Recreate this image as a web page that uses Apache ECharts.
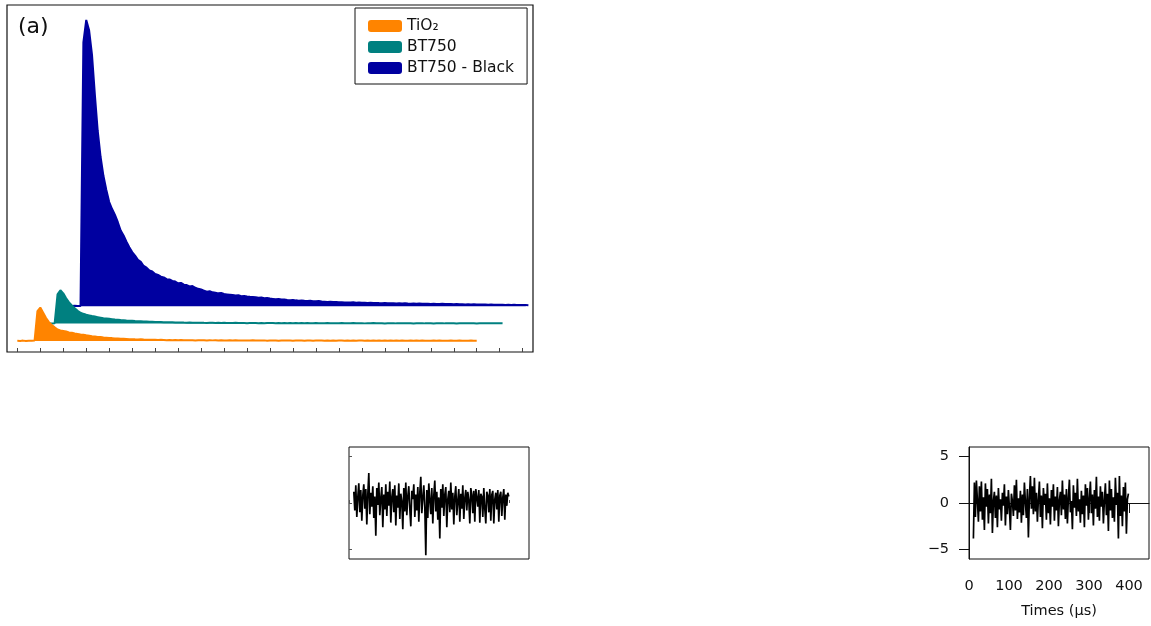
<!DOCTYPE html>
<html>
<head>
<meta charset="utf-8">
<script src="https://cdn.jsdelivr.net/npm/echarts@6/dist/echarts.min.js"></script>
<style>
  html, body { margin: 0; padding: 0; background: #ffffff; }
  #chart { width: 1151px; height: 626px; }
</style>
</head>
<body>
<div id="chart"></div>
<script>
// ---- Transient decays (panel a), sampled every 2.5 µs ----
const sampleStep = 2.5;                       // µs between samples
const seriesNames = ['TiO₂', 'BT750', 'BT750 - Black'];
const traceStart = [0, 17.5, 35];             // µs, first sample of each trace
const traceBaseline = [3.2, 8.2, 13.2];       // vertical offset of each trace (waterfall)

const tio2Signal = [
  0.05, 0.0, 0.08, -0.03, 0.04, 0.02, 0.1,
  8.6, 9.6, 8.1, 6.6, 5.4, 4.6, 3.9, 3.3, 3.0, 2.85, 2.7, 2.45, 2.35, 2.15,
  2.0, 1.85, 1.75, 1.6, 1.5, 1.35, 1.3, 1.15, 1.1, 0.95, 0.9, 0.85, 0.8, 0.7,
  0.72, 0.62, 0.6, 0.55, 0.5, 0.5, 0.45, 0.42, 0.44, 0.38, 0.35, 0.36, 0.3, 0.32, 0.28, 0.3,
  0.26, 0.22, 0.27, 0.2, 0.24, 0.18, 0.23, 0.21, 0.16, 0.22,
  0.19, 0.14, 0.2, 0.17, 0.21, 0.13, 0.18, 0.15, 0.19, 0.12,
  0.17, 0.14, 0.1, 0.16, 0.13, 0.18, 0.11, 0.15, 0.09, 0.14,
  0.12, 0.16, 0.08, 0.13, 0.1, 0.15, 0.07, 0.12, 0.11, 0.14,
  0.06, 0.13, 0.09, 0.12, 0.1, 0.07, 0.13, 0.08, 0.11, 0.05,
  0.12, 0.09, 0.06, 0.11, 0.08, 0.13, 0.05, 0.1, 0.07, 0.12,
  0.06, 0.09, 0.11, 0.04, 0.1, 0.07, 0.12, 0.05, 0.08, 0.1,
  0.03, 0.09, 0.06, 0.11, 0.04, 0.08, 0.07, 0.1, 0.05, 0.09,
  0.02, 0.08, 0.06, 0.1, 0.04, 0.07, 0.09, 0.03, 0.08, 0.05,
  0.1, 0.04, 0.07, 0.06, 0.09, 0.02, 0.08, 0.05, 0.07, 0.04,
  0.08, 0.06, 0.03, 0.09, 0.05, 0.07, 0.04, 0.08, 0.06, 0.05
];

const bt750Signal = [
  0.03, 0.06, 0.0, 0.05, 0.02, 0.04, 0.1,
  8.4, 9.6, 8.7, 7.3, 6.1, 5.2, 4.4, 3.7, 3.1, 2.8, 2.55, 2.35, 2.15, 2.0,
  1.85, 1.7, 1.55, 1.45, 1.35, 1.25, 1.15, 1.1, 1.0, 0.95, 0.88, 0.82, 0.78, 0.72,
  0.68, 0.64, 0.6, 0.58, 0.52, 0.5, 0.47, 0.44, 0.42, 0.4, 0.38, 0.35, 0.36, 0.32, 0.3, 0.31,
  0.27, 0.24, 0.29, 0.22, 0.26, 0.2, 0.25, 0.21, 0.18, 0.23,
  0.2, 0.16, 0.22, 0.18, 0.2, 0.15, 0.19, 0.17, 0.2, 0.13,
  0.18, 0.15, 0.12, 0.17, 0.14, 0.19, 0.12, 0.16, 0.1, 0.15,
  0.13, 0.17, 0.09, 0.14, 0.11, 0.16, 0.08, 0.13, 0.12, 0.15,
  0.07, 0.14, 0.1, 0.13, 0.11, 0.08, 0.14, 0.09, 0.12, 0.06,
  0.13, 0.1, 0.07, 0.12, 0.09, 0.14, 0.06, 0.11, 0.08, 0.13,
  0.07, 0.1, 0.12, 0.05, 0.11, 0.08, 0.13, 0.06, 0.09, 0.11,
  0.04, 0.1, 0.07, 0.12, 0.05, 0.09, 0.08, 0.11, 0.06, 0.1,
  0.03, 0.09, 0.07, 0.11, 0.05, 0.08, 0.1, 0.04, 0.09, 0.06,
  0.11, 0.05, 0.08, 0.07, 0.1, 0.03, 0.09, 0.06, 0.08, 0.05,
  0.09, 0.07, 0.04, 0.1, 0.06, 0.08, 0.05, 0.09, 0.07, 0.06,
  0.08, 0.05
];

const bt750BlackSignal = [
  0.05, 0.1, 0.02, 0.08, 0.0, 0.06, 0.1, 0.04, 0.08,
  76, 82.5, 79.5, 72.5, 61, 50.5, 43, 37.5, 33.5, 30, 28, 26.3, 24.2, 21.8, 20.4,
  18.6, 17.0, 15.6, 14.6, 13.4, 12.8, 11.6, 11.1, 10.3, 10.0, 9.3, 9.0, 8.5, 8.3,
  7.8, 7.7, 7.3, 7.1, 6.6, 6.7, 6.2, 6.1, 5.7, 5.8, 5.3, 5.0, 4.8, 4.5, 4.2, 4.3,
  4.0, 3.9, 3.7, 3.8, 3.5, 3.4, 3.3, 3.2, 3.1, 3.15, 2.9, 2.95, 2.8, 2.7, 2.65, 2.6,
  2.45, 2.5, 2.3, 2.35, 2.2, 2.1, 2.0, 2.05, 1.9, 1.95, 1.8,
  1.75, 1.82, 1.68, 1.6, 1.66, 1.55, 1.5, 1.58, 1.45, 1.4, 1.47, 1.33, 1.3, 1.22,
  1.25, 1.18, 1.2, 1.12, 1.16, 1.08, 1.1, 1.05, 1.12, 1.0, 1.04, 0.98, 1.02, 0.94, 0.97, 0.9, 0.95, 0.9,
  0.88, 0.92, 0.85, 0.83, 0.88, 0.8, 0.84, 0.78, 0.82, 0.76, 0.74, 0.79, 0.72, 0.75, 0.7, 0.68,
  0.73, 0.66, 0.7, 0.64, 0.62, 0.67, 0.6, 0.6,
  0.62, 0.57, 0.6, 0.55, 0.58, 0.52, 0.55, 0.5, 0.53, 0.48, 0.5, 0.46, 0.49, 0.44,
  0.47, 0.42, 0.45, 0.4, 0.43, 0.38, 0.41, 0.36, 0.39, 0.35, 0.37, 0.33, 0.35, 0.3
];

// ---- Residual traces (lower panels), sampled every 2.5 µs ----
const residualStepUs = 2.5;
const residualLeftStart = 12;
const residualRightStart = 11;
const residualLeft = [
  1.2, -0.8, 1.9, -1.5, 0.6, 2.1, -1.0, 1.4, -1.9, 0.8,
  2.0, -0.6, 1.5, -2.3, 0.9, 3.2, -1.2, 1.1, -0.4, 1.8,
  -1.6, 0.7, -3.5, 1.6, -0.2, 2.2, -1.3, 0.5, 1.7, -2.6,
  0.9, -0.7, 2.0, -1.4, 1.2, -0.3, 2.3, -2.1, 0.6, 1.5,
  -1.0, 1.9, -2.4, 0.8, -0.5, 2.1, -1.7, 1.0, 0.2, -2.8,
  1.6, -0.9, 2.2, -1.3, 0.7, 1.8, -0.6, -2.5, 1.3, 0.4,
  2.0, -1.5, 0.9, -0.8, 1.7, -2.0, 1.1, 2.8, -1.1, 0.5,
  1.9, -0.4, -5.6, 1.4, -1.6, 2.1, 0.3, -1.2, 1.6, -2.2,
  0.8, 2.4, -0.9, 1.2, -1.8, 0.6, -3.8, 1.5, -0.5, 2.0,
  -1.4, 0.9, 1.7, -2.6, 0.4, 1.3, -1.0, 2.2, -0.7, 1.1,
  -2.3, 0.7, 1.8, -1.3, 0.2, 1.5, -2.0, 1.0, -0.6, 1.9,
  -1.7, 0.5, 1.4, -0.8, 1.2, 0.3, -2.2, 1.6, 0.9, -1.1,
  1.3, -2.0, 1.5, 0.6, -0.4, 1.4, -2.1, 1.0, 0.7, -1.5,
  1.6, -0.6, -2.2, 1.2, 0.8, -1.0, 1.5, -1.9, 0.9, 1.3,
  -2.2, 0.4, 1.1, -0.7, 1.4, -2.0, 0.8, 1.2, -1.4, 0.6,
  1.5, -1.8, 0.9, -0.3, 1.1, 0.7
];
const residualRight = [
  -3.8, 2.2, -1.5, 2.4, 0.3, -2.0, 1.8, -0.9, 2.3, -1.8,
  0.6, -2.9, 2.1, -0.4, 1.5, -2.2, 0.9, -1.1, 2.6, -3.2,
  0.2, 1.2, -1.6, 0.8, -2.6, 1.6, -0.7, 0.4, -1.9, 1.1,
  -0.3, 2.0, -2.4, 0.7, -1.2, 1.4, -0.5, -2.9, 1.0, 0.2,
  -1.4, 1.9, -0.8, 2.5, -1.7, 0.5, -1.0, 1.3, -2.1, 0.9,
  -1.3, 2.2, 0.1, -1.6, 1.5, -3.7, 0.6, 2.9, -0.6, 1.8,
  -1.2, 2.7, -0.9, 1.1, -2.0, 0.4, 2.3, -1.5, 0.8, -2.7,
  1.6, -0.2, 1.0, -1.8, 2.1, -1.1, 0.5, -2.3, 1.4, -0.4,
  2.0, -1.9, 0.7, -0.8, 1.7, -2.5, 0.3, 1.2, -1.3, 2.4,
  -0.7, 0.9, -1.7, 1.5, -2.2, 0.6, 2.5, -1.0, 0.2, -2.8,
  1.9, -0.5, 1.1, -1.4, 2.6, -0.9, 0.4, -2.1, 1.3, -1.2,
  0.8, -2.6, 2.0, -0.3, 1.6, -1.8, 0.5, 2.3, -1.1, 0.9,
  -2.4, 1.4, -0.6, 2.8, -1.5, 0.7, -1.9, 1.8, -0.4, 1.2,
  -2.2, 0.3, 2.1, -1.3, 1.0, -3.0, 2.4, -0.8, 1.5, -1.6,
  0.6, -2.0, 2.7, -0.2, 1.1, -3.8, 2.9, -1.4, 0.8, -2.5,
  1.7, -0.9, 2.2, -3.3, 0.4, 1.0
];

// Tick values
const decayTicks = [0, 20, 40, 60, 80, 100, 120, 140, 160, 180, 200, 220,
                    240, 260, 280, 300, 320, 340, 360, 380, 400, 420, 440];
const timeTicks = [0, 100, 200, 300, 400];
const residualTicks = [-5, 0, 5];

// ---- styling ----
const FONT = 'DejaVu Sans';
const traceColors = ['#FF8400', '#008080', '#0000A0'];

function toPoints(values, start, step, offset) {
  return values.map((v, i) => [start + i * step, v + offset]);
}

const decaySignals = [tio2Signal, bt750Signal, bt750BlackSignal];

// back to front: BT750 - Black, BT750, TiO2 (each its own z so lines and fills stack per trace)
const decaySeries = [2, 1, 0].map((k, order) => ({
  name: seriesNames[k],
  type: 'line',
  xAxisIndex: 0,
  yAxisIndex: 0,
  z: 2 + order,
  data: toPoints(decaySignals[k], traceStart[k], sampleStep, traceBaseline[k]),
  showSymbol: false,
  symbol: 'none',
  lineStyle: { color: traceColors[k], width: 2 },
  itemStyle: { color: traceColors[k] },
  areaStyle: { color: traceColors[k], opacity: 1, origin: traceBaseline[k] },
  silent: true
}));

const residualSeries = [
  {
    type: 'line', xAxisIndex: 1, yAxisIndex: 1,
    data: toPoints(residualLeft, residualLeftStart, residualStepUs, 0),
    showSymbol: false, symbol: 'none',
    lineStyle: { color: '#000', width: 1.7 }, silent: true
  },
  {
    type: 'line', xAxisIndex: 2, yAxisIndex: 2,
    data: toPoints(residualRight, residualRightStart, residualStepUs, 0),
    showSymbol: false, symbol: 'none',
    lineStyle: { color: '#000', width: 1.7 }, silent: true
  }
];

const chart = echarts.init(document.getElementById('chart'), null, { renderer: 'canvas' });

chart.setOption({
  animation: false,
  backgroundColor: '#ffffff',
  title: {
    text: '(a)', left: 18, top: 16, padding: 0,
    textStyle: { fontFamily: FONT, fontSize: 22, fontWeight: 'normal', color: '#111' }
  },
  legend: {
    data: seriesNames.map((n, k) => ({ name: n, itemStyle: { color: traceColors[k] } })),
    orient: 'vertical',
    left: 355, top: 8,
    icon: 'roundRect',
    itemWidth: 34, itemHeight: 12, itemGap: 5,
    padding: [10, 13, 8, 13],
    borderColor: '#111', borderWidth: 1, borderRadius: 0,
    backgroundColor: '#fff',
    selectedMode: false,
    z: 10,
    textStyle: { fontFamily: FONT, fontSize: 15.5, color: '#111', lineHeight: 16 }
  },
  grid: [
    { left: 7, top: 5, width: 526, height: 347, show: true, borderColor: '#111', borderWidth: 1.2, backgroundColor: 'transparent' },
    { left: 349, top: 447, width: 180, height: 112, show: true, borderColor: '#111', borderWidth: 1, backgroundColor: 'transparent' },
    { left: 969, top: 447, width: 180, height: 112, show: true, borderColor: '#111', borderWidth: 1, backgroundColor: 'transparent' }
  ],
  xAxis: [
    {
      gridIndex: 0, type: 'value', min: -9, max: 449,
      axisLine: { show: false },
      axisTick: { show: true, inside: true, length: 4, customValues: decayTicks, lineStyle: { color: '#444', width: 1 } },
      axisLabel: { show: false },
      splitLine: { show: false }
    },
    {
      gridIndex: 1, type: 'value', min: 0, max: 450,
      axisLine: { show: false },
      axisTick: { show: true, inside: true, length: 3, customValues: timeTicks, lineStyle: { color: '#555', width: 1 } },
      axisLabel: { show: false },
      splitLine: { show: false }
    },
    {
      gridIndex: 2, type: 'value', min: 0, max: 450,
      name: 'Times (µs)', nameLocation: 'middle', nameGap: 45,
      nameTextStyle: { fontFamily: FONT, fontSize: 14.5, color: '#111' },
      axisLine: { show: true, lineStyle: { color: '#111', width: 1 } },
      axisTick: { show: true, inside: false, length: 10, customValues: timeTicks, lineStyle: { color: '#111', width: 1 } },
      axisLabel: { show: true, customValues: timeTicks, margin: 20, fontFamily: FONT, fontSize: 14.5, color: '#111' },
      splitLine: { show: false }
    }
  ],
  yAxis: [
    {
      gridIndex: 0, type: 'value', min: 0, max: 100,
      axisLine: { show: false }, axisTick: { show: false },
      axisLabel: { show: false }, splitLine: { show: false }
    },
    {
      gridIndex: 1, type: 'value', min: -6, max: 6,
      axisLine: { show: false },
      axisTick: { show: true, inside: true, length: 3, customValues: residualTicks, lineStyle: { color: '#555', width: 1 } },
      axisLabel: { show: false }, splitLine: { show: false }
    },
    {
      gridIndex: 2, type: 'value', min: -6, max: 6,
      axisLine: { show: true, lineStyle: { color: '#111', width: 1 } },
      axisTick: { show: true, inside: false, length: 10, customValues: residualTicks, lineStyle: { color: '#111', width: 1 } },
      axisLabel: {
        show: true, customValues: residualTicks, margin: 20,
        fontFamily: FONT, fontSize: 14.5, color: '#111',
        formatter: v => String(v).replace('-', '\u2212')
      },
      splitLine: { show: false }
    }
  ],
  series: decaySeries.concat(residualSeries)
});
</script>
</body>
</html>
